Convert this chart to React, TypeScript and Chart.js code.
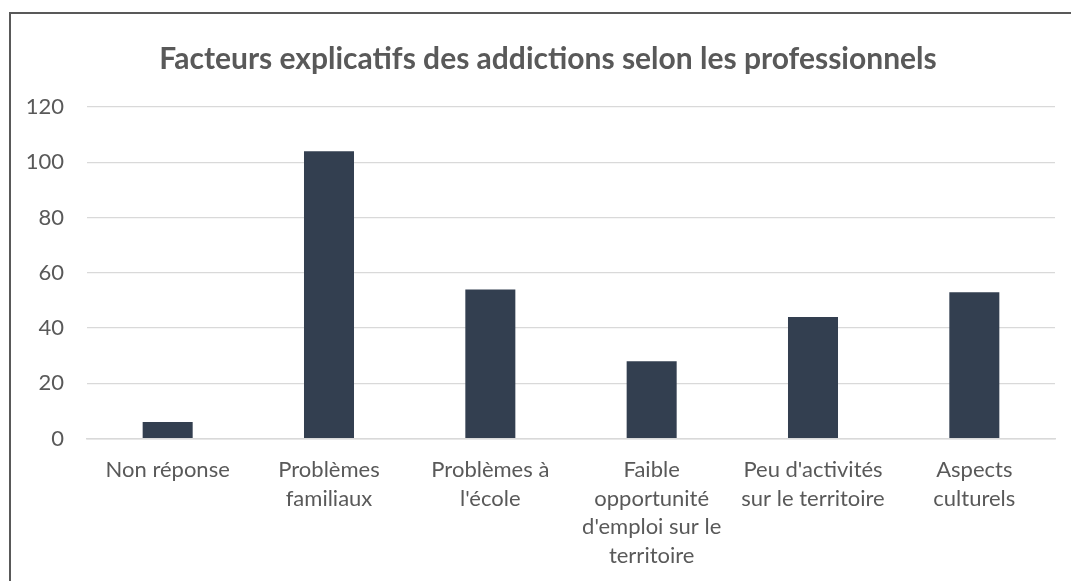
import React, { useEffect, useRef } from "react";
import { Chart, registerables } from "chart.js";

Chart.register(...registerables);

const categories: (string | string[])[] = [
  "Non réponse",
  ["Problèmes", "familiaux"],
  ["Problèmes à", "l'école"],
  ["Faible", "opportunité", "d'emploi sur le", "territoire"],
  ["Peu d'activités", "sur le territoire"],
  ["Aspects", "culturels"],
];
const values: number[] = [6, 104, 54, 28, 44, 53];
const yTicks: number[] = [0, 20, 40, 60, 80, 100, 120];
const titleText = "Facteurs explicatifs des addictions selon les professionnels";

const FONT = "Lato, 'Open Sans', sans-serif";
const TEXT = "#595959";

const titlePlugin = {
  id: "centeredTitle",
  afterDraw(chart: any) {
    const ctx = chart.ctx;
    ctx.save();
    ctx.fillStyle = TEXT;
    ctx.font = `bold 30px ${FONT}`;
    ctx.textAlign = "center";
    ctx.textBaseline = "middle";
    ctx.fillText(titleText, 548, 59);
    ctx.restore();
  },
};

export default function App() {
  const ref = useRef<HTMLCanvasElement | null>(null);
  useEffect(() => {
    if (!ref.current) return;
    const chart = new Chart(ref.current, {
      type: "bar",
      data: {
        labels: categories,
        datasets: [
          {
            data: values,
            backgroundColor: "#333F50",
            borderWidth: 0,
            categoryPercentage: 1,
            barPercentage: 0.31,
          },
        ],
      },
      plugins: [titlePlugin],
      options: {
        responsive: false,
        animation: false,
        devicePixelRatio: 1,
        layout: { padding: { left: 10, right: 16, top: 107, bottom: -6 } },
        plugins: {
          legend: { display: false },
          tooltip: { enabled: false },
          title: { display: false },
        },
        scales: {
          x: {
            grid: { display: false, drawTicks: false },
            border: { display: true, color: "#d9d9d9", width: 1.5 },
            ticks: {
              color: TEXT,
              font: { family: FONT, size: 22, lineHeight: 1.3 },
              maxRotation: 0,
              minRotation: 0,
              autoSkip: false,
              padding: 17,
            },
          },
          y: {
            min: 0,
            max: 120,
            afterFit: (s: any) => {
              s.width = 77;
            },
            afterBuildTicks: (s: any) => {
              s.ticks = yTicks.map((v) => ({ value: v }));
            },
            grid: { color: "#d9d9d9", lineWidth: 1.3, drawTicks: false },
            border: { display: false },
            ticks: {
              color: TEXT,
              font: { family: FONT, size: 22 },
              padding: 23,
            },
          },
        },
      },
    });
    return () => chart.destroy();
  }, []);

  return (
    <div
      style={{
        position: "fixed",
        left: 0,
        top: 0,
        width: 1071,
        height: 581,
        overflow: "hidden",
        background: "#ffffff",
      }}
    >
      <div
        style={{
          position: "absolute",
          left: 9,
          top: 12,
          width: 1100,
          height: 620,
          border: "2px solid #595959",
          boxSizing: "border-box",
        }}
      />
      <canvas
        ref={ref}
        width={1071}
        height={581}
        style={{ position: "absolute", left: 0, top: 0, width: 1071, height: 581 }}
      />
    </div>
  );
}
